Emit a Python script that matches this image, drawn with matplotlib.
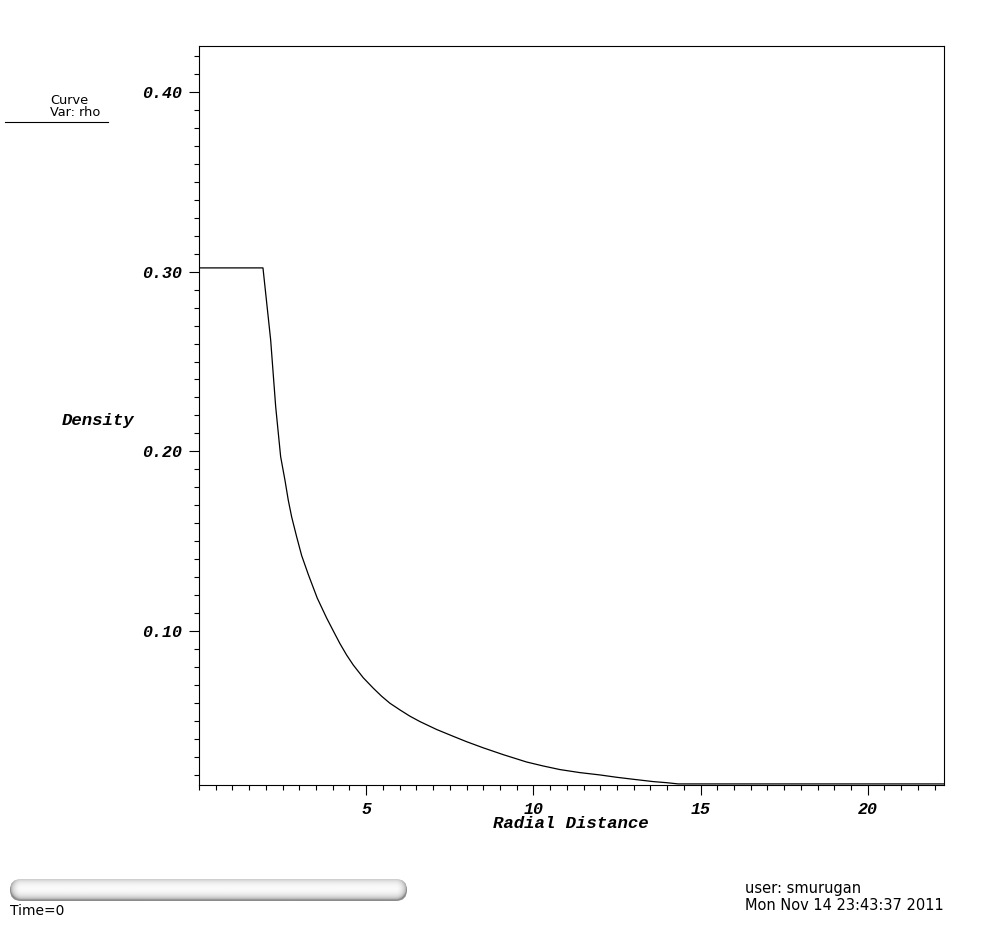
# plot.py
#   density vs radial distance (VisIt curve plot look-alike)

import numpy as np
import matplotlib
matplotlib.use("Agg")
from matplotlib import pyplot as plt
from matplotlib.patches import FancyBboxPatch
from matplotlib.ticker import MultipleLocator

# data
radius = [0.0, 1.913, 2.143, 2.293, 2.392, 2.442, 2.571, 2.670, 2.771, 2.921,
          3.070, 3.268, 3.537, 3.818, 4.015, 4.215, 4.416, 4.613, 4.912,
          5.211, 5.462, 5.710, 6.009, 6.308, 6.607, 7.106, 7.603, 8.003,
          8.499, 9.097, 9.797, 10.29, 10.79, 11.39, 11.99, 12.49,
          12.98, 13.58, 13.98, 14.33, 22.27]
rho = [0.3021, 0.3021, 0.2620, 0.2249, 0.2063, 0.1970, 0.1839, 0.1728, 0.1635,
       0.1524, 0.1420, 0.1315, 0.1183, 0.1072, 0.1001, 0.0930, 0.0866, 0.0811,
       0.0740, 0.0682, 0.0637, 0.0598, 0.0561, 0.0526, 0.0496, 0.0452, 0.0414,
       0.0384, 0.0350, 0.0312, 0.0271, 0.0249, 0.0229, 0.0212, 0.0199,
       0.0186, 0.0175, 0.0162, 0.0156, 0.0149, 0.0149]
xticks = [5, 10, 15, 20]
yticks = [0.10, 0.20, 0.30, 0.40]
ytick_labels = ["0.10", "0.20", "0.30", "0.40"]

W, H = 995, 925
mono = dict(family="Liberation Mono", weight="bold", style="italic")
sans = "DejaVu Sans"


def fx(px):
    return px / W


def fy(py):
    return 1 - py / H


def slider(fig):
    # rounded grey bar, shaded like a tube
    x0, x1, y0, y1 = 10, 407, 879, 901
    w, h = x1 - x0, y1 - y0
    sax = fig.add_axes([fx(x0), fy(y1), fx(x1) - fx(x0), fy(y0) - fy(y1)])
    sax.set_axis_off()
    sax.set_xlim(0, w)
    sax.set_ylim(0, h)
    r = h / 2
    xx, yy = np.meshgrid(np.linspace(0, w, 400), np.linspace(0, h, 44))
    cx = np.clip(xx, r, w - r)
    d = np.hypot(xx - cx, (yy - r * 1.1)) / r
    shade = 0.55 + 0.43 * np.sqrt(np.clip(1 - d ** 2, 0, 1))
    im = sax.imshow(shade, cmap="gray", vmin=0, vmax=1, extent=[0, w, 0, h],
                    aspect="auto", origin="lower")
    pill = FancyBboxPatch((0, 0), w, h, boxstyle=f"round,pad=0,rounding_size={r}",
                          transform=sax.transData, facecolor="none", edgecolor="none")
    sax.add_patch(pill)
    im.set_clip_path(pill)


def main():
    fig = plt.figure(figsize=(W / 100, H / 100), dpi=100)
    ax = fig.add_axes([fx(199), fy(785), fx(944) - fx(199), fy(46) - fy(785)])

    ax.plot(radius, rho, color="black", lw=0.9)
    ax.set_xlim(0, 22.28)
    ax.set_ylim(0.0143, 0.4256)

    ax.xaxis.set_minor_locator(MultipleLocator(0.5))
    ax.yaxis.set_minor_locator(MultipleLocator(0.01))
    ax.set_xticks(xticks)
    ax.set_yticks(yticks)
    ax.set_xticklabels([str(t) for t in xticks], fontsize=12, **mono)
    ax.set_yticklabels(ytick_labels, fontsize=12, **mono)
    ax.tick_params(which="major", direction="out", length=7, width=0.8, pad=5)
    ax.tick_params(which="minor", direction="out", length=3.5, width=0.8)
    for s in ax.spines.values():
        s.set_linewidth(0.8)

    # axis titles placed like VisIt does
    fig.text(fx(98), fy(421), "Density", ha="center", va="center", fontsize=12.5, **mono)
    fig.text(fx(571), fy(823), "Radial Distance", ha="center", va="center", fontsize=12.5, **mono)

    # legend in the top left
    fig.text(fx(50), fy(100), "Curve", ha="left", va="center", fontsize=9.3, family=sans)
    fig.text(fx(50), fy(113), "Var: rho", ha="left", va="center", fontsize=9.3, family=sans)
    fig.add_artist(plt.Line2D([fx(5), fx(108)], [fy(122), fy(122)], color="black", lw=0.8))

    slider(fig)

    fig.text(fx(10), fy(911), "Time=0", ha="left", va="center", fontsize=10, family=sans)
    fig.text(fx(745), fy(888), "user: smurugan", ha="left", va="center", fontsize=10.5, family=sans)
    fig.text(fx(745), fy(905), "Mon Nov 14 23:43:37 2011", ha="left", va="center", fontsize=10.5, family=sans)

    fig.savefig("out.png", dpi=100)


if __name__ == "__main__":
    main()
